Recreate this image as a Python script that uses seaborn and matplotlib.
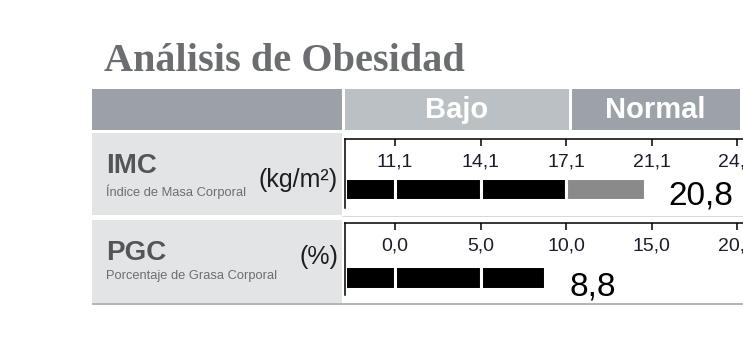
import numpy as np
import matplotlib
matplotlib.use("Agg")
import matplotlib.pyplot as plt
from matplotlib.patches import Rectangle
import seaborn as sns

# ---------------- data ----------------
title = "Análisis de Obesidad"
zones = ["Bajo", "Normal"]
row_codes = ["IMC", "PGC"]
row_names = ["Índice de Masa Corporal", "Porcentaje de Grasa Corporal"]
row_units = ["(kg/m²)", "(%)"]
imc_ticks = [11.1, 14.1, 17.1, 21.1, 24.1]
pgc_ticks = [0.0, 5.0, 10.0, 15.0, 20.0]
imc_value = 20.8
pgc_value = 8.8
imc_bajo_limit = 17.1
pgc_bajo_limit = 10.0

sns.set_theme(style="white")
plt.rcParams["font.family"] = ["Liberation Sans", "DejaVu Sans"]

W, H = 743, 338
fig = plt.figure(figsize=(W / 100, H / 100), dpi=100)

# background / decoration axes in pixel units
bg = fig.add_axes([0, 0, 1, 1], zorder=0)
bg.set_xlim(0, W)
bg.set_ylim(H, 0)
bg.axis("off")

panel = "#e2e4e6"
hdr_dark = "#9ba1a6"
hdr_bajo = "#bbc0c4"
hdr_norm = "#9ca2a7"

bg.add_patch(Rectangle((92, 89), 250, 41, color=hdr_dark, lw=0))
bg.add_patch(Rectangle((345, 89), 224, 41, color=hdr_bajo, lw=0))
bg.add_patch(Rectangle((572, 89), 168, 41, color=hdr_norm, lw=0))
bg.text(457, 110, zones[0], color="white", fontsize=21, fontweight="bold",
        ha="center", va="center")
bg.text(655, 110, zones[1], color="white", fontsize=21, fontweight="bold",
        ha="center", va="center")

bg.add_patch(Rectangle((92, 133), 250, 82, color=panel, lw=0))
bg.add_patch(Rectangle((92, 220), 250, 83, color=panel, lw=0))
bg.add_patch(Rectangle((342, 216), W - 342, 1.2, color="#d6d9dc", lw=0))
bg.add_patch(Rectangle((92, 303), W - 92, 2.2, color="#b2b6ba", lw=0))

bg.text(104, 71, title, family=["Liberation Serif", "DejaVu Serif"],
        fontweight="bold", fontsize=29, color="#6b6d70", va="baseline")

base_y = [173, 260]
sub_y = [196, 279]
unit_y = [187, 264]
for i in range(2):
    bg.text(106, base_y[i], row_codes[i], fontsize=20, fontweight="bold",
            color="#545557", va="baseline")
    bg.text(106, sub_y[i], row_names[i], fontsize=9.3,
            color="#6d6e70", va="baseline")
    bg.text(338, unit_y[i], row_units[i], fontsize=18, color="#1e1e1e",
            ha="right", va="baseline")


def make_scale(ticks):
    t = np.asarray(ticks, float)
    idx = np.arange(len(t), dtype=float)

    def fwd(v):
        v = np.asarray(v, float)
        out = np.interp(v, t, idx)
        lo = v < t[0]
        hi = v > t[-1]
        out = np.where(lo, (v - t[0]) / (t[1] - t[0]), out)
        out = np.where(hi, idx[-1] + (v - t[-1]) / (t[-1] - t[-2]), out)
        return out

    def inv(p):
        p = np.asarray(p, float)
        out = np.interp(p, idx, t)
        lo = p < 0
        hi = p > idx[-1]
        out = np.where(lo, t[0] + p * (t[1] - t[0]), out)
        out = np.where(hi, t[-1] + (p - idx[-1]) * (t[-1] - t[-2]), out)
        return out

    return fwd, inv


def draw_row(rect, ticks, value, limit, bar_y, bar_h, text_dy):
    ax = fig.add_axes(rect, zorder=2)
    ax.patch.set_alpha(0)
    fwd, inv = make_scale(ticks)
    ax.set_xscale("function", functions=(fwd, inv))
    left = float(inv(-0.585))
    right = float(inv(4.07))
    ax.set_xlim(left, right)
    ax.set_ylim(0, 1)
    edges = [left] + [t for t in ticks if t < value] + [value]
    for a, b in zip(edges[:-1], edges[1:]):
        col = "black" if b <= limit + 1e-9 else "#8a8a8a"
        ax.barh(bar_y, b - a, left=a, height=bar_h, color=col,
                edgecolor="white", linewidth=2.2, zorder=2)
    ax.set_xticks(ticks)
    ax.set_xticklabels([f"{t:.1f}".replace(".", ",") for t in ticks])
    ax.tick_params(axis="x", top=True, bottom=False, labeltop=True,
                   labelbottom=False, direction="in", length=5, width=1.1,
                   color="black", pad=-22.5, labelsize=14,
                   labelcolor="#1c1c30")
    ax.set_yticks([])
    for s in ["right", "bottom"]:
        ax.spines[s].set_visible(False)
    for s in ["top", "left"]:
        ax.spines[s].set_visible(True)
        ax.spines[s].set_color("black")
        ax.spines[s].set_linewidth(1.1)
    ax.annotate(f"{value:.1f}".replace(".", ","),
                xy=(value, bar_y - bar_h / 2), xytext=(17, text_dy),
                textcoords="offset points", fontsize=24, color="black",
                ha="left", va="baseline", annotation_clip=False)
    return ax


x0 = 345 / W
ax1 = draw_row([x0, 1 - 208 / H, 1 - x0, 69 / H], imc_ticks, imc_value,
               imc_bajo_limit, 0.275, 0.33, -3)
ax2 = draw_row([x0, 1 - 295 / H, 1 - x0, 72 / H], pgc_ticks, pgc_value,
               pgc_bajo_limit, 0.245, 0.31, -5)

fig.savefig("out.png", dpi=100)
